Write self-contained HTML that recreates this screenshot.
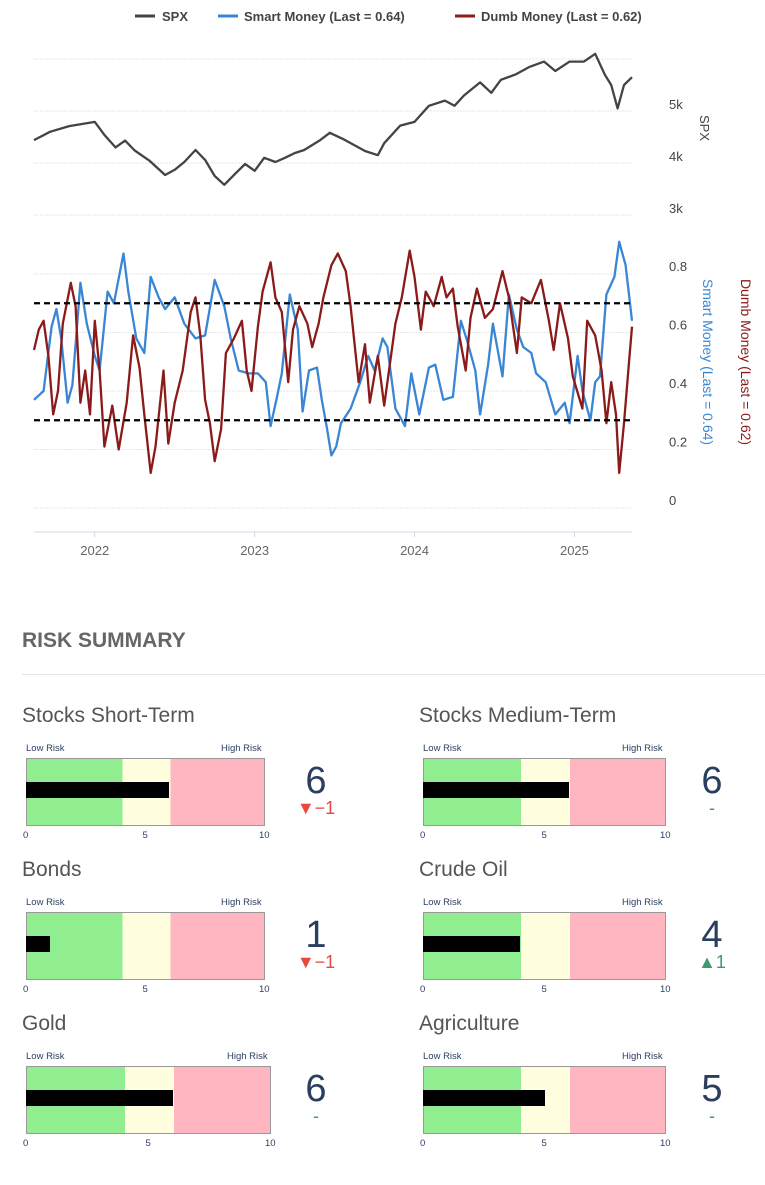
<!DOCTYPE html>
<html><head><meta charset="utf-8">
<style>
body{margin:0;background:#fff;width:765px;height:1185px;overflow:hidden;font-family:"Liberation Sans",sans-serif}
svg text{font-family:"Liberation Sans",sans-serif}
</style></head>
<body>
<svg id="chart" width="765" height="560" style="position:absolute;left:0;top:0">
  <g font-size="13" font-weight="bold" fill="#444">
    <g><line x1="135" y1="16" x2="155" y2="16" stroke="#444" stroke-width="3"/><text x="162" y="21">SPX</text></g>
    <g><line x1="218" y1="16" x2="238" y2="16" stroke="#3a86d4" stroke-width="3"/><text x="244" y="21">Smart Money (Last = 0.64)</text></g>
    <g><line x1="455" y1="16" x2="475" y2="16" stroke="#8b1a1a" stroke-width="3"/><text x="481" y="21">Dumb Money (Last = 0.62)</text></g>
  </g>
  <g id="grid"></g>
  <g id="marks"></g>
  <g id="axes" font-size="13" fill="#444"></g>
  <text transform="translate(700,128) rotate(90)" text-anchor="middle" font-size="13" fill="#444">SPX</text>
  <text transform="translate(703,362) rotate(90)" text-anchor="middle" font-size="14" fill="#3a86d4">Smart Money (Last = 0.64)</text>
  <text transform="translate(741,362) rotate(90)" text-anchor="middle" font-size="14" fill="#8b1a1a">Dumb Money (Last = 0.62)</text>
</svg>

<div style="position:absolute;left:22px;top:629px;font-size:21px;font-weight:bold;color:#666">RISK SUMMARY</div>
<div style="position:absolute;left:22px;top:674px;width:743px;height:1px;background:#e4e4e4"></div>
<div id="gauges"></div>

<script>
const spxDates=[2021.62,2021.72,2021.84,2022.0,2022.06,2022.13,2022.19,2022.25,2022.34,2022.44,2022.5,2022.56,2022.63,2022.69,2022.75,2022.81,2022.88,2022.94,2023.0,2023.06,2023.13,2023.19,2023.25,2023.31,2023.41,2023.47,2023.56,2023.69,2023.77,2023.81,2023.91,2024.0,2024.09,2024.19,2024.25,2024.31,2024.41,2024.48,2024.54,2024.63,2024.72,2024.81,2024.88,2024.97,2025.06,2025.13,2025.19,2025.23,2025.27,2025.31,2025.36];
const spxValues=[4440,4600,4710,4790,4540,4300,4430,4240,4050,3770,3870,4020,4250,4060,3750,3580,3800,3980,3850,4100,4020,4100,4190,4250,4440,4580,4450,4230,4150,4380,4720,4790,5100,5200,5100,5300,5550,5350,5600,5700,5850,5950,5770,5950,5950,6100,5700,5500,5050,5500,5650];
const smartDates=[2021.62,2021.68,2021.73,2021.76,2021.79,2021.83,2021.86,2021.91,2021.95,2022.0,2022.03,2022.08,2022.12,2022.18,2022.21,2022.26,2022.31,2022.35,2022.40,2022.44,2022.50,2022.56,2022.63,2022.69,2022.75,2022.81,2022.85,2022.90,2022.96,2023.02,2023.07,2023.10,2023.14,2023.17,2023.22,2023.27,2023.30,2023.34,2023.39,2023.42,2023.45,2023.48,2023.51,2023.54,2023.60,2023.66,2023.71,2023.75,2023.80,2023.83,2023.88,2023.94,2023.98,2024.03,2024.09,2024.13,2024.18,2024.24,2024.29,2024.33,2024.38,2024.41,2024.46,2024.49,2024.55,2024.59,2024.64,2024.68,2024.73,2024.76,2024.82,2024.88,2024.94,2024.97,2025.02,2025.05,2025.10,2025.13,2025.16,2025.20,2025.25,2025.28,2025.32,2025.36];
const smartValues=[0.37,0.40,0.62,0.68,0.58,0.36,0.42,0.77,0.63,0.52,0.47,0.74,0.70,0.87,0.74,0.58,0.53,0.79,0.72,0.68,0.72,0.63,0.58,0.59,0.78,0.69,0.58,0.47,0.46,0.46,0.43,0.28,0.38,0.46,0.73,0.61,0.33,0.47,0.48,0.37,0.28,0.18,0.21,0.29,0.34,0.43,0.52,0.47,0.58,0.55,0.34,0.28,0.46,0.32,0.48,0.49,0.37,0.38,0.64,0.57,0.47,0.32,0.49,0.63,0.45,0.73,0.61,0.55,0.53,0.46,0.43,0.32,0.36,0.29,0.52,0.40,0.30,0.43,0.45,0.73,0.79,0.91,0.83,0.64];
const dumbDates=[2021.62,2021.65,2021.68,2021.71,2021.74,2021.77,2021.80,2021.85,2021.88,2021.91,2021.94,2021.97,2022.00,2022.03,2022.06,2022.11,2022.15,2022.20,2022.24,2022.28,2022.31,2022.35,2022.38,2022.43,2022.46,2022.50,2022.55,2022.60,2022.63,2022.66,2022.69,2022.72,2022.75,2022.79,2022.82,2022.87,2022.92,2022.95,2022.98,2023.02,2023.05,2023.10,2023.13,2023.17,2023.21,2023.24,2023.28,2023.33,2023.36,2023.40,2023.43,2023.48,2023.52,2023.57,2023.60,2023.65,2023.69,2023.72,2023.77,2023.81,2023.88,2023.92,2023.97,2024.00,2024.04,2024.07,2024.12,2024.17,2024.20,2024.24,2024.27,2024.32,2024.35,2024.39,2024.44,2024.49,2024.55,2024.59,2024.64,2024.67,2024.73,2024.79,2024.84,2024.87,2024.91,2024.96,2024.99,2025.05,2025.08,2025.13,2025.17,2025.20,2025.23,2025.26,2025.28,2025.31,2025.34,2025.36];
const dumbValues=[0.54,0.61,0.64,0.52,0.32,0.40,0.63,0.77,0.69,0.36,0.47,0.32,0.64,0.47,0.21,0.35,0.20,0.36,0.59,0.48,0.32,0.12,0.21,0.47,0.22,0.36,0.47,0.67,0.72,0.59,0.37,0.29,0.16,0.27,0.53,0.58,0.64,0.47,0.40,0.62,0.74,0.84,0.72,0.67,0.43,0.61,0.69,0.63,0.55,0.63,0.72,0.83,0.87,0.81,0.69,0.43,0.56,0.36,0.52,0.35,0.63,0.72,0.88,0.79,0.61,0.74,0.69,0.79,0.72,0.75,0.62,0.47,0.65,0.75,0.65,0.68,0.81,0.72,0.53,0.72,0.70,0.78,0.64,0.54,0.70,0.58,0.45,0.34,0.64,0.59,0.47,0.29,0.43,0.32,0.12,0.29,0.49,0.62];
const spxTicks=[3000,4000,5000,6000];
const spxTickLabels=["3k","4k","5k",""];
const sentTicks=[0,0.2,0.4,0.6,0.8];
const sentTickLabels=["0","0.2","0.4","0.6","0.8"];
const thresholds=[0.7,0.3];
const yearTicks=[2022,2023,2024,2025];

const NS="http://www.w3.org/2000/svg";
const X0=34,X1=632,T0=2021.62,T1=2025.36;
const xs=t=>X0+(t-T0)/(T1-T0)*(X1-X0);
const ySpx=v=>215-(v-3000)*0.052;
const ySent=v=>508-v*292.5;
function mk(tag,attrs,parent){const e=document.createElementNS(NS,tag);for(const k in attrs)e.setAttribute(k,attrs[k]);parent.appendChild(e);return e;}
const grid=document.getElementById('grid'),marks=document.getElementById('marks'),axes=document.getElementById('axes');
spxTicks.forEach((v,i)=>{
  const l=mk('line',{x1:X0,x2:X1,y1:ySpx(v),y2:ySpx(v),stroke:'#e6e6e6','stroke-dasharray':'2,1'},grid);
  
  
  const t=mk('text',{x:669,y:ySpx(v)-2},axes);t.textContent=spxTickLabels[i];
  
  
});
sentTicks.forEach((v,i)=>{
  const l=mk('line',{x1:X0,x2:X1,y1:ySent(v),y2:ySent(v),stroke:'#e6e6e6','stroke-dasharray':'2,1'},grid);
  
  
  const t=mk('text',{x:669,y:ySent(v)-3},axes);t.textContent=sentTickLabels[i];
  
  
});
const ax=mk('line',{x1:X0,x2:X1,y1:532,y2:532,stroke:'#d0d8e4'},axes);


yearTicks.forEach(y=>{
  mk('line',{x1:xs(y),x2:xs(y),y1:532,y2:537,stroke:'#d0d8e4'},axes);
  const t=mk('text',{x:xs(y),y:555,'text-anchor':'middle',fill:'#666'},axes);t.textContent=y;
  
  
});
function line(dates,vals,yf,color,name){
  const p=mk('polyline',{points:dates.map((d,i)=>xs(d).toFixed(1)+','+yf(vals[i]).toFixed(1)).join(' '),fill:'none',stroke:color,'stroke-width':2.3,'stroke-linejoin':'round'},marks);
  
  
}
line(spxDates,spxValues,ySpx,'#444','spx-line');
line(smartDates,smartValues,ySent,'#3a86d4','smart-money-line');
line(dumbDates,dumbValues,ySent,'#8b1a1a','dumb-money-line');
thresholds.forEach(v=>{
  const l=mk('line',{x1:X0,x2:X1,y1:ySent(v),y2:ySent(v),stroke:'#000','stroke-width':2.2,'stroke-dasharray':'6,4'},marks);
  
  
});

// gauges
const gaugeNames=["Stocks Short-Term","Stocks Medium-Term","Bonds","Crude Oil","Gold","Agriculture"];
const gaugeValues=[6,6,1,4,6,5];
const gaugeChanges=[-1,0,-1,1,0,0];
const gaugeBands=[4,6,10];
const cont=document.getElementById('gauges');
gaugeNames.forEach((n,i)=>{
  const col=i%2,row=Math.floor(i/2);
  const left=col?423:26, top=758+row*154, w=(i===4)?245:(col?243:239);
  const titleTop=top-54, numX=col?712:316;
  const s=v=>v/10*w;
  const g=document.createElement('div');
  
  
  g.innerHTML=
  `<div style="position:absolute;left:${left-4}px;top:${titleTop}px;font-size:21px;color:#555">${n}</div>
   <div style="position:absolute;left:${left}px;top:${top-15}px;font-size:9.5px;color:#2a3f5f">Low Risk</div>
   <div style="position:absolute;left:${left+w-44}px;top:${top-15}px;font-size:9.5px;color:#2a3f5f">High Risk</div>
   <div style="position:absolute;left:${left}px;top:${top}px;width:${w}px;height:68px;border:1px solid #999;box-sizing:border-box;background:linear-gradient(to right,#90ee90 0,#90ee90 ${s(gaugeBands[0])}px,#fffedf ${s(gaugeBands[0])}px,#fffedf ${s(gaugeBands[1])}px,#ffb6c1 ${s(gaugeBands[1])}px)"></div>
   <div style="position:absolute;left:${left}px;top:${top+24}px;width:${s(gaugeValues[i])}px;height:16px;background:#000"></div>
   <div style="position:absolute;left:${left-3}px;top:${top+72}px;font-size:9.5px;color:#2a3f5f">0</div>
   <div style="position:absolute;left:${left+w/2-3}px;top:${top+72}px;font-size:9.5px;color:#2a3f5f">5</div>
   <div style="position:absolute;left:${left+w-6}px;top:${top+72}px;font-size:9.5px;color:#2a3f5f">10</div>
   <div style="position:absolute;left:${numX-30}px;width:60px;text-align:center;top:${top+2}px;font-size:38px;color:#2a3f5f">${gaugeValues[i]}</div>
   <div style="position:absolute;left:${numX-30}px;width:60px;text-align:center;top:${top+40}px;font-size:18px;color:${gaugeChanges[i]<0?'#e8473f':'#3d9970'}">${gaugeChanges[i]<0?'▼−'+(-gaugeChanges[i]):gaugeChanges[i]>0?'▲'+gaugeChanges[i]:'-'}</div>`;
  cont.appendChild(g);
});
</script>
</body></html>
